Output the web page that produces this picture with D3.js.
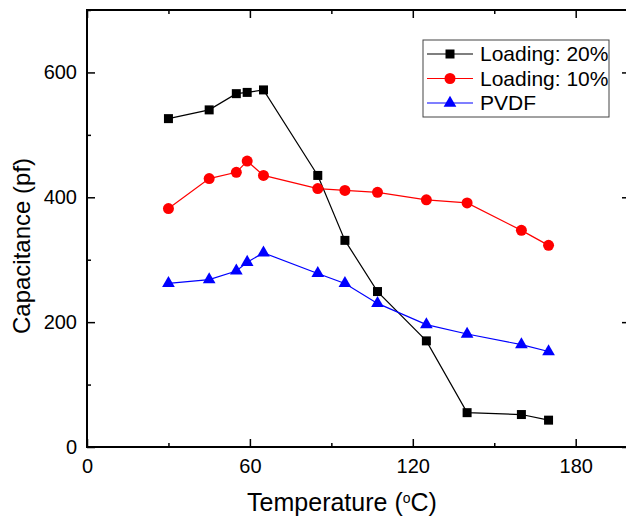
<!DOCTYPE html>
<html>
<head>
<meta charset="utf-8">
<script src="https://cdn.jsdelivr.net/npm/d3@7"></script>
<style>
  body { margin: 0; background: #fff; }
  svg { display: block; font-family: "Liberation Sans", Arial, sans-serif; }
</style>
</head>
<body>
<div class="chart"></div>
<script>
// Data.
const temps20 = [30, 45, 55, 59, 65, 85, 95, 107, 125, 140, 160, 170];
const cap20 = [526, 540, 566, 568, 572, 435, 331, 249, 170, 55, 52, 43];

const temps10 = [30, 45, 55, 59, 65, 85, 95, 107, 125, 140, 160, 170];
const cap10 = [382, 430, 440, 458, 435, 414, 411, 408, 396, 391, 347, 323];

const tempsPvdf = [30, 45, 55, 59, 65, 85, 95, 107, 125, 140, 160, 170];
const capPvdf = [262, 268, 282, 296, 311, 278, 262, 230, 196, 181, 164, 153];

const xMajor = [0, 60, 120, 180];
const xMinor = [30, 90, 150];
const yMajor = [0, 200, 400, 600];
const yMinor = [100, 300, 500, 700];

const seriesNames = ["Loading: 20%", "Loading: 10%", "PVDF"];
const colors = ["#000000", "#ff0000", "#0000ff"];

const series = [
  { name: seriesNames[0], color: colors[0], symbol: d3.symbolSquare, size: 81,
    values: temps20.map((t, i) => ({ t: t, v: cap20[i] })) },
  { name: seriesNames[1], color: colors[1], symbol: d3.symbolCircle, size: 95,
    values: temps10.map((t, i) => ({ t: t, v: cap10[i] })) },
  { name: seriesNames[2], color: colors[2], symbol: d3.symbolTriangle, size: 70,
    values: tempsPvdf.map((t, i) => ({ t: t, v: capPvdf[i] })) },
];

// Margin convention.
const W = 626, H = 520;
const margin = { top: 10, left: 87 };
const plotW = 543, plotH = 437;

const svg = d3.select(".chart").append("svg")
  .attr("width", W)
  .attr("height", H);

const g = svg.append("g")
  .attr("transform", `translate(${margin.left}, ${margin.top})`);

// Scales.
const xScale = d3.scaleLinear().domain([0, 200]).range([0, plotW]);
const yScale = d3.scaleLinear().domain([0, 700]).range([plotH, 0]);

// Axes (ticks point inward).
function styleAxis(sel) {
  sel.select(".domain").remove();
  sel.selectAll(".tick line").attr("stroke", "#000").attr("stroke-width", 1.5);
  sel.selectAll("text").attr("fill", "#000").style("font-size", "20px");
}

g.append("g")
  .attr("transform", `translate(0, ${plotH})`)
  .call(d3.axisBottom(xScale).tickValues(xMajor).tickSize(-8).tickPadding(12))
  .call(styleAxis);
g.append("g")
  .attr("transform", `translate(0, ${plotH})`)
  .call(d3.axisBottom(xScale).tickValues(xMinor).tickSize(-4).tickFormat(""))
  .call(styleAxis);
g.append("g")
  .call(d3.axisTop(xScale).tickValues(xMajor).tickSize(-8).tickFormat(""))
  .call(styleAxis);
g.append("g")
  .call(d3.axisTop(xScale).tickValues(xMinor).tickSize(-4).tickFormat(""))
  .call(styleAxis);

g.append("g")
  .call(d3.axisLeft(yScale).tickValues(yMajor).tickSize(-8).tickPadding(10))
  .call(styleAxis);
g.append("g")
  .call(d3.axisLeft(yScale).tickValues(yMinor).tickSize(-4).tickFormat(""))
  .call(styleAxis);
g.append("g")
  .attr("transform", `translate(${plotW}, 0)`)
  .call(d3.axisRight(yScale).tickValues(yMajor).tickSize(-8).tickFormat(""))
  .call(styleAxis);
g.append("g")
  .attr("transform", `translate(${plotW}, 0)`)
  .call(d3.axisRight(yScale).tickValues(yMinor).tickSize(-4).tickFormat(""))
  .call(styleAxis);

// Frame.
g.append("rect")
  .attr("width", plotW)
  .attr("height", plotH)
  .attr("fill", "none")
  .attr("stroke", "#000")
  .attr("stroke-width", 2);

// Lines and markers.
const lineGen = d3.line()
  .x((d) => xScale(d.t))
  .y((d) => yScale(d.v));

series.forEach((s) => {
  g.append("path")
    .attr("d", lineGen(s.values))
    .attr("fill", "none")
    .attr("stroke", s.color)
    .attr("stroke-width", 1.2);

  g.append("g")
    .selectAll("path")
    .data(s.values)
    .enter()
    .append("path")
    .attr("d", d3.symbol().type(s.symbol).size(s.size))
    .attr("transform", (d) => `translate(${xScale(d.t)}, ${yScale(d.v)})`)
    .attr("fill", s.color);
});

// Legend.
const legend = svg.append("g").attr("transform", "translate(423, 40)");
legend.append("rect")
  .attr("width", 186)
  .attr("height", 77)
  .attr("fill", "#fff")
  .attr("stroke", "#444")
  .attr("stroke-width", 1);

series.forEach((s, i) => {
  const row = legend.append("g").attr("transform", `translate(0, ${14 + i * 24.5})`);
  row.append("line")
    .attr("x1", 4).attr("x2", 50)
    .attr("stroke", s.color)
    .attr("stroke-width", 1.2);
  row.append("path")
    .attr("d", d3.symbol().type(s.symbol).size(s.size))
    .attr("transform", "translate(27, 0)")
    .attr("fill", s.color);
  row.append("text")
    .attr("x", 57)
    .attr("dy", "0.35em")
    .style("font-size", "21px")
    .text(s.name);
});

// Axis titles.
const xTitle = svg.append("text")
  .attr("x", 342)
  .attr("y", 511)
  .attr("text-anchor", "middle")
  .style("font-size", "25px");
xTitle.append("tspan").text("Temperature (");
xTitle.append("tspan").attr("baseline-shift", "super").style("font-size", "14px").text("o");
xTitle.append("tspan").text("C)");

svg.append("text")
  .attr("transform", "translate(30, 246) rotate(-90)")
  .attr("text-anchor", "middle")
  .style("font-size", "24px")
  .text("Capacitance (pf)");
</script>
</body>
</html>
